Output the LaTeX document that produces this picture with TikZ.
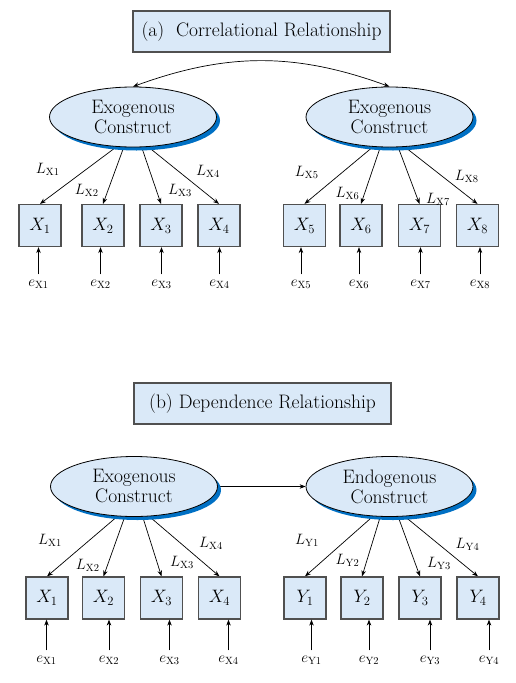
\documentclass[tikz,border=0pt]{standalone}
\usepackage{fix-cm}
\usepackage{tikz}
\usetikzlibrary{shapes.geometric, arrows.meta, shadows, backgrounds}
\definecolor{constructfill}{RGB}{218, 233, 248}
\definecolor{shadowblue}{RGB}{0, 112, 196}
\definecolor{framegray}{RGB}{80, 80, 80}

\begin{document}
\begin{tikzpicture}[
    x=1pt, y=-1pt,
    construct/.style={ellipse, draw, fill=constructfill, line width=0.8pt, minimum width=167pt, minimum height=60pt, inner sep=0pt, align=center, font=\fontsize{19.5}{20}\selectfont,
        drop shadow={shadow xshift=3.5pt, shadow yshift=-3.5pt, fill=shadowblue, opacity=1}},
    indicator/.style={draw=framegray, fill=constructfill, line width=1.2pt, minimum size=42pt, inner sep=0pt, font=\fontsize{18}{20}\selectfont},
    heading/.style={draw=framegray, fill=constructfill, line width=1.2pt, minimum width=257pt, minimum height=41pt, font=\fontsize{19.5}{20}\selectfont},
    arrow/.style={-{Stealth[length=6pt, width=4.5pt]}, line width=0.7pt},
    biarrow/.style={{Stealth[length=6pt, width=4.5pt]}-{Stealth[length=6pt, width=4.5pt]}, line width=0.7pt},
    loading/.style={font=\fontsize{15}{18}\selectfont, inner sep=0pt},
    errlabel/.style={font=\fontsize{15}{18}\selectfont, inner sep=5pt}
]
    \useasboundingbox (0,0) rectangle (516,683);

    % (a) Correlational relationship
    \node[heading] (headA) at (261.5, 31.5) {(a)\ \ Correlational Relationship};
    \node[construct] (exoA1) at (133, 117) {Exogenous\\Construct};
    \node[construct] (exoA2) at (389.5, 117) {Exogenous\\Construct};
    \draw[biarrow] (exoA1.north) to[bend left=20] (exoA2.north);

    \foreach \i/\bx/\ex in {1/40/38.5, 2/103/100.5, 3/161/161.5, 4/219/219.5, 5/304.5/301, 6/361/359, 7/419.5/420.5, 8/477.5/480} {
        \node[indicator] (xa\i) at (\bx, 225.5) {$X_\i$};
        \node[errlabel] (ea\i) at (\ex, 284) {$e_{\mathrm{X}\i}$};
        \draw[arrow] (ea\i.north) -- (ea\i.north |- xa\i.south);
    }
    \begin{scope}[on background layer]
        \foreach \i/\a in {1/241, 2/253, 3/286, 4/297}
            \draw[arrow] (exoA1.\a) -- (xa\i.north);
        \foreach \i/\a in {5/241, 6/253, 7/286, 8/297}
            \draw[arrow] (exoA2.\a) -- (xa\i.north);
    \end{scope}
    \foreach \t/\lx/\ly in {X1/47.7/169.7, X2/86.7/190, X3/180/190.5, X4/208/171.7, X5/306.7/172, X6/347.5/193, X7/438/199, X8/466.7/176}
        \node[loading] (la\t) at (\lx, \ly) {$L_{\mathrm{\t}}$};

    % (b) Dependence relationship
    \node[heading] (headB) at (262.5, 403.5) {(b) Dependence Relationship};
    \node[construct] (exoB) at (134, 486.5) {Exogenous\\Construct};
    \node[construct] (endoB) at (389.5, 486.5) {Endogenous\\Construct};

    \foreach \i/\bx/\ex in {1/47/46.5, 2/103.5/109, 3/161.5/169.5, 4/219.5/228.5} {
        \node[indicator] (xb\i) at (\bx, 598) {$X_\i$};
        \node[errlabel] (eb\i) at (\ex, 660) {$e_{\mathrm{X}\i}$};
        \draw[arrow] (eb\i.north) -- (eb\i.north |- xb\i.south);
    }
    \foreach \i/\bx/\ex in {1/305/311.5, 2/362/369, 3/420/430, 4/478/489} {
        \node[indicator] (yb\i) at (\bx, 598) {$Y_\i$};
        \node[errlabel] (fb\i) at (\ex, 660) {$e_{\mathrm{Y}\i}$};
        \draw[arrow] (fb\i.north) -- (fb\i.north |- yb\i.south);
    }
    \begin{scope}[on background layer]
        \draw[arrow] (exoB.east) -- (endoB.west);
        \foreach \i/\a in {1/241, 2/253, 3/286, 4/297}
            \draw[arrow] (exoB.\a) -- (xb\i.north);
        \foreach \i/\a in {1/241, 2/253, 3/286, 4/297}
            \draw[arrow] (endoB.\a) -- (yb\i.north);
    \end{scope}
    \foreach \t/\lx/\ly in {X1/50/540, X2/87.7/565, X3/182/562, X4/211/543, Y1/307/540, Y2/347.5/560, Y3/439/563, Y4/467.5/544}
        \node[loading] (lb\t) at (\lx, \ly) {$L_{\mathrm{\t}}$};
\end{tikzpicture}
\end{document}
